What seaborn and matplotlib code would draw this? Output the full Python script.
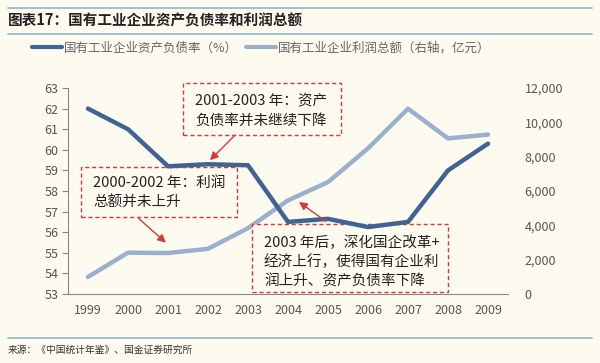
import pandas as pd
import matplotlib.pyplot as plt
import seaborn as sns
from matplotlib.lines import Line2D
from matplotlib.patches import Rectangle

# data
years = ['1999', '2000', '2001', '2002', '2003', '2004', '2005', '2006', '2007', '2008', '2009']
debt_ratio = [62.0, 61.0, 59.2, 59.3, 59.25, 56.5, 56.65, 56.25, 56.5, 59.0, 60.3]
profit = [998, 2408, 2389, 2633, 3836, 5453, 6520, 8485, 10795, 9064, 9287]
left_ticks = [53, 54, 55, 56, 57, 58, 59, 60, 61, 62, 63]
right_ticks = [0, 2000, 4000, 6000, 8000, 10000, 12000]

df = pd.DataFrame({'year': years, 'debt': debt_ratio, 'profit': profit})
df['pos'] = range(len(years))

sns.set_style('white')
plt.rcParams['font.family'] = ['Noto Sans CJK SC', 'DejaVu Sans']

bg = '#fdfaf0'
dark = '#3f6393'
light = '#9bb0cf'
red = '#d9383a'
W, H = 600, 363

fig = plt.figure(figsize=(6, 3.63), dpi=100, facecolor=bg)
ax = fig.add_axes([0.1133, 0.19, 0.7334, 0.5676])
ax2 = ax.twinx()

sns.lineplot(data=df, x='pos', y='profit', ax=ax2, color=light, linewidth=3.2)
sns.lineplot(data=df, x='pos', y='debt', ax=ax, color=dark, linewidth=3.2)
ax2.set_zorder(0)
ax.set_zorder(1)
ax.patch.set_visible(False)
ax2.patch.set_visible(True)
ax2.patch.set_facecolor(bg)

ax.set_xlim(-0.5, len(years) - 0.5)
ax.set_ylim(53, 63)
ax2.set_ylim(0, 12000)
ax.set_yticks(left_ticks)
ax.set_yticklabels([str(t) for t in left_ticks], fontsize=9, color='#555555')
ax2.set_yticks(right_ticks)
ax2.set_yticklabels([f'{t:,}' for t in right_ticks], fontsize=9, color='#555555')
ax.set_xticks(df['pos'])
ax.set_xticklabels(years, fontsize=9, color='#555555')
ax.set_xticks([i - 0.5 for i in range(len(years) + 1)], minor=True)
ax.tick_params(axis='x', which='major', length=0, pad=7)
ax.tick_params(axis='x', which='minor', length=4, color='#888888', direction='out')
ax.tick_params(axis='y', length=4, color='#888888', direction='out', pad=3)
ax2.tick_params(axis='y', length=0, pad=12)
ax.set_xlabel('')
ax.set_ylabel('')
ax2.set_ylabel('')

for s in ['top', 'right']:
    ax.spines[s].set_visible(False)
for s in ax2.spines.values():
    s.set_visible(False)
ax.spines['left'].set_color('#888888')
ax.spines['bottom'].set_color('#888888')


def fx(px):
    return px / W


def fy(py):
    return 1 - py / H


# annotation boxes (pixel placement from the reference), drawn between the two axes layers
def note_box(x0, y0, w, h, lines, tx, ty, dy):
    fig.add_artist(Rectangle((fx(x0), fy(y0 + h)), w / W, h / H, transform=fig.transFigure,
                             facecolor=bg, edgecolor=red, linestyle=(0, (3, 2)),
                             linewidth=1.0, zorder=0.5))
    for i, t in enumerate(lines):
        fig.text(fx(tx), fy(ty + i * dy), t, fontsize=10.5, color='#222222',
                 va='center', ha='left', zorder=0.6)


note_box(183, 83, 158, 52, ['2001-2003 年：资产', '负债率并未继续下降'], 195, 100, 21)
note_box(81, 167, 156, 50, ['2000-2002 年：利润', '总额并未上升'], 93, 183, 19)
note_box(252, 224, 196, 68, ['2003 年后，深化国企改革+', '经济上行，使得国有企业利', '润上升、资产负债率下降'],
         264, 243, 19)

arrow_kw = dict(arrowstyle='-|>', color=red, lw=1.0, mutation_scale=12)
ax.annotate('', xy=(3.0, 59.4), xytext=(3.72, 60.8), arrowprops=arrow_kw, zorder=7)
ax.annotate('', xy=(2.0, 55.4), xytext=(1.22, 56.75), arrowprops=arrow_kw, zorder=7)
ax.annotate('', xy=(5.22, 57.55), xytext=(6.0, 56.45), arrowprops=arrow_kw, zorder=7)

# legend
handles = [Line2D([], [], color=dark, lw=3), Line2D([], [], color=light, lw=3)]
fig.legend(handles, ['国有工业企业资产负债率（%）', '国有工业企业利润总额（右轴，亿元）'],
           loc='center', bbox_to_anchor=(0.435, 0.868), ncol=2, frameon=False,
           fontsize=9, handlelength=2.4, columnspacing=0.6, handletextpad=0.2,
           labelcolor='#666666')

# title and frame lines
line_c = '#8fb6c8'
fig.add_artist(Line2D([0.013, 0.987], [0.977, 0.977], color=line_c, lw=1.2))
fig.add_artist(Line2D([0.013, 0.987], [0.907, 0.907], color=line_c, lw=1.2))
fig.add_artist(Line2D([0.013, 0.987], [0.069, 0.069], color=line_c, lw=1.2))
fig.text(0.013, 0.943, '图表17：国有工业企业资产负债率和利润总额', fontsize=10.5,
         fontweight='bold', fontstyle='italic', color='#222222', va='center')
fig.text(0.013, 0.035, '来源：《中国统计年鉴》、国金证券研究所', fontsize=7,
         color='#333333', va='center')

fig.savefig('out.png', dpi=100, facecolor=bg)
